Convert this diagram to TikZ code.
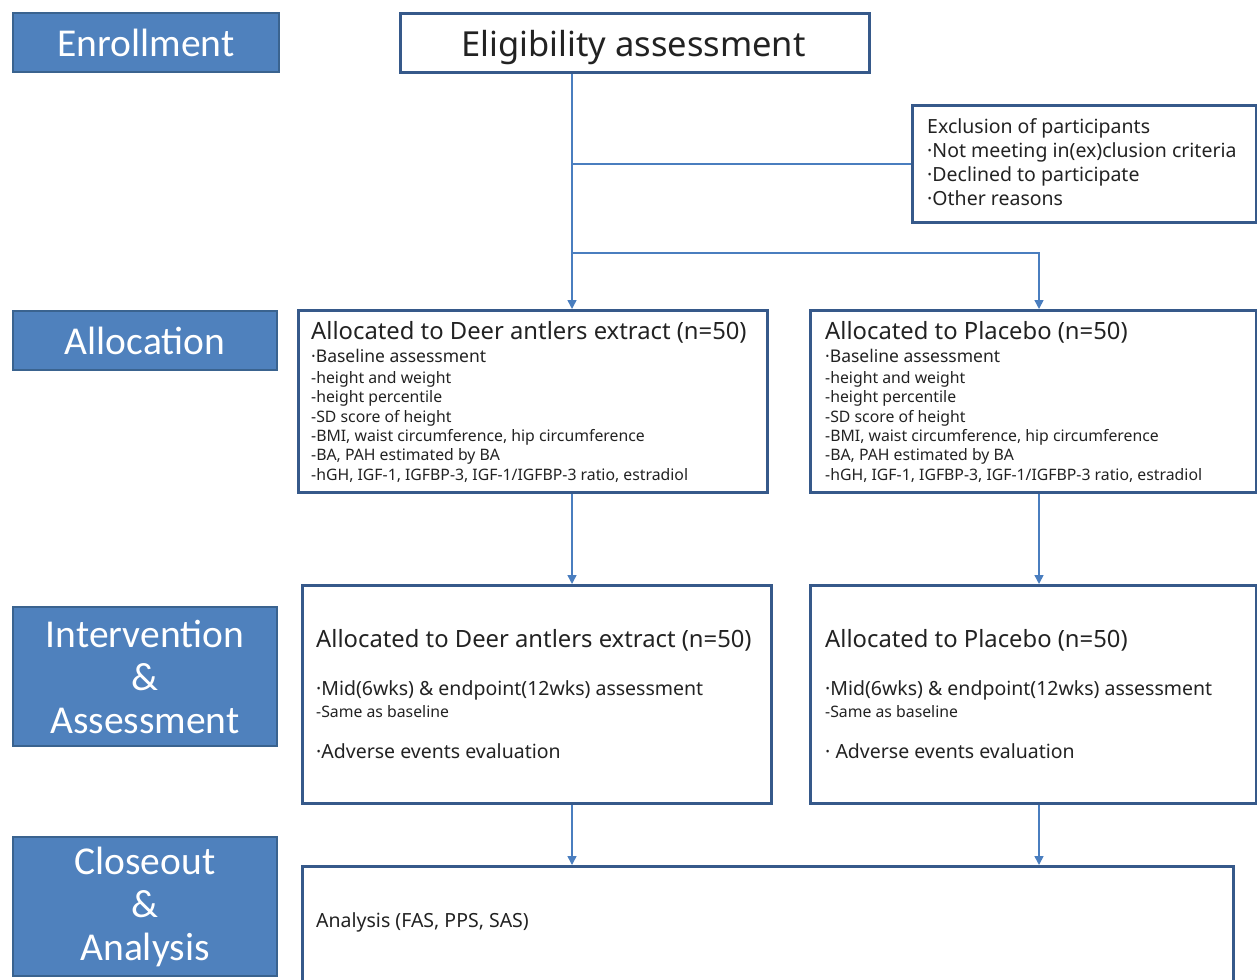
\documentclass[tikz,border=0pt]{standalone}
\usepackage{fontspec}
\setmainfont{Noto Sans}
\newfontfamily\labelfont{Carlito}
\usetikzlibrary{arrows.meta}
\definecolor{lblfill}{HTML}{4F81BD}
\definecolor{lblborder}{HTML}{3A638F}
\definecolor{boxborder}{HTML}{36598A}
\definecolor{connc}{HTML}{4A7EBF}
\definecolor{txtc}{HTML}{222222}
\tikzset{
  lbl/.style={draw=lblborder, fill=lblfill, line width=2pt, text=white,
    font=\labelfont\fontsize{39.5}{43}\selectfont, align=center, inner sep=0pt, anchor=north west},
  box/.style={draw=boxborder, line width=3pt, anchor=north west, inner sep=0pt},
  txt/.style={anchor=base west, inner sep=0pt, text=txtc},
  head/.style={txt, font=\fontsize{23.8}{28}\selectfont},
  mid/.style={txt, font=\fontsize{19.5}{23}\selectfont},
  base/.style={txt, font=\fontsize{17.5}{21}\selectfont},
  small/.style={txt, font=\fontsize{15.8}{18}\selectfont},
  conn/.style={draw=connc, line width=1.5pt},
  arr/.style={conn, -{Triangle[length=9pt,width=9pt]}}
}
\begin{document}
\begin{tikzpicture}[x=1pt,y=-1pt]
\useasboundingbox (0,0) rectangle (1257,979);
% stage labels
\node[lbl, minimum width=266pt, minimum height=59pt] (enr) at (12,12) {Enrollment};
\node[lbl, minimum width=264pt, minimum height=59pt] (alloc) at (12,310) {Allocation};
\node[lbl, minimum width=264pt, minimum height=139pt] (inter) at (12,606) {Intervention\\\&\\Assessment};
\node[lbl, minimum width=264pt, minimum height=139pt] (close) at (12,836) {Closeout\\\&\\Analysis};
% boxes
\node[box, minimum width=469pt, minimum height=59pt] (elig) at (399,12) {};
\node[txt, anchor=base, font=\fontsize{34.5}{40}\selectfont] (eligt) at (633.5,57) {Eligibility assessment};
\node[box, minimum width=344pt, minimum height=117pt] (excl) at (911,104) {};
\node[box, minimum width=469pt, minimum height=182pt] (aL) at (297,309) {};
\node[box, minimum width=446pt, minimum height=182pt] (aR) at (809,309) {};
\node[box, minimum width=469pt, minimum height=218pt] (iL) at (301,584) {};
\node[box, minimum width=446pt, minimum height=218pt] (iR) at (809,584) {};
\node[box, minimum width=931pt, minimum height=140pt] (cl) at (301,865) {};
% exclusion text
\node[mid] (ex1) at (927,133) {Exclusion of participants};
\node[mid] (ex2) at (927,157) {·Not meeting in(ex)clusion criteria};
\node[mid] (ex3) at (927,181) {·Declined to participate};
\node[mid] (ex4) at (927,205) {·Other reasons};
% allocation left
\node[head] (aLh) at (311,339) {Allocated to Deer antlers extract (n=50)};
\node[base] (aL0) at (311,362) {·Baseline assessment};
\node[small] (aL1) at (311,383) {-height and weight};
\node[small] (aL2) at (311,402.5) {-height percentile};
\node[small] (aL3) at (311,422) {-SD score of height};
\node[small] (aL4) at (311,441) {-BMI, waist circumference, hip circumference};
\node[small] (aL5) at (311,460.5) {-BA, PAH estimated by BA};
\node[small] (aL6) at (311,480) {-hGH, IGF-1, IGFBP-3, IGF-1/IGFBP-3 ratio, estradiol};
% allocation right
\node[head] (aRh) at (825,339) {Allocated to Placebo (n=50)};
\node[base] (aR0) at (825,362) {·Baseline assessment};
\node[small] (aR1) at (825,383) {-height and weight};
\node[small] (aR2) at (825,402.5) {-height percentile};
\node[small] (aR3) at (825,422) {-SD score of height};
\node[small] (aR4) at (825,441) {-BMI, waist circumference, hip circumference};
\node[small] (aR5) at (825,460.5) {-BA, PAH estimated by BA};
\node[small] (aR6) at (825,480) {-hGH, IGF-1, IGFBP-3, IGF-1/IGFBP-3 ratio, estradiol};
% intervention left
\node[head] (iLh) at (316,647) {Allocated to Deer antlers extract (n=50)};
\node[mid] (iL1) at (316,695) {·Mid(6wks) \& endpoint(12wks) assessment};
\node[small] (iL2) at (316,717) {-Same as baseline};
\node[mid] (iL3) at (316,758) {·Adverse events evaluation};
% intervention right
\node[head] (iRh) at (825,647) {Allocated to Placebo (n=50)};
\node[mid] (iR1) at (825,695) {·Mid(6wks) \& endpoint(12wks) assessment};
\node[small] (iR2) at (825,717) {-Same as baseline};
\node[mid] (iR3) at (825,758) {· Adverse events evaluation};
% closeout
\node[mid] (an) at (316,927) {Analysis (FAS, PPS, SAS)};
% connectors
\coordinate (c1) at (572,0);
\coordinate (c2) at (1039,0);
\coordinate (split) at (0,253);
\draw[arr] (elig.south -| c1) -- (aL.north -| c1);
\draw[conn] (c1 |- excl.west) -- (excl.west);
\draw[arr] (c1 |- split) -- (split -| c2) -- (aR.north -| c2);
\draw[arr] (aL.south -| c1) -- (iL.north -| c1);
\draw[arr] (aR.south -| c2) -- (iR.north -| c2);
\draw[arr] (iL.south -| c1) -- (cl.north -| c1);
\draw[arr] (iR.south -| c2) -- (cl.north -| c2);
\end{tikzpicture}
\end{document}
